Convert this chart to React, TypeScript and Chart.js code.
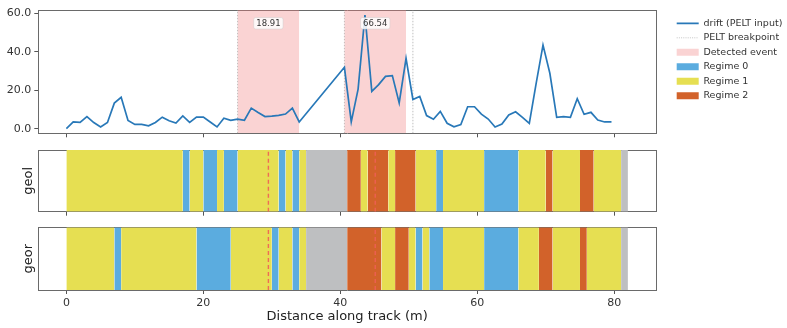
import React, { useEffect, useRef } from 'react';
import { Chart, registerables } from 'chart.js';

Chart.register(...registerables);
Chart.defaults.font.family = '"DejaVu Sans", sans-serif';
Chart.defaults.color = '#333';

// ---------- data ----------
const X_MIN = -4.1;
const X_MAX = 86.1;
const xTickValues = [0, 20, 40, 60, 80];

const DRIFT_Y_MIN = -2.4;
const DRIFT_Y_MAX = 61.7;
const driftYTicks = [0, 20, 40, 60];

const driftX = [
  0, 1, 2, 3, 4, 5, 6, 7, 8, 9, 10, 11, 12, 13, 14, 15, 16, 17, 18, 19, 20,
  21, 22, 23, 24, 25, 26, 27, 28, 29, 30, 31, 32, 33, 34,
  40.6, 41.6, 42.6, 43.6, 44.6, 45.6, 46.6, 47.6, 48.6, 49.6, 50.6, 51.6,
  52.6, 53.6, 54.6, 55.6, 56.6, 57.6, 58.6, 59.6, 60.6, 61.6, 62.6, 63.6,
  64.6, 65.6, 66.6, 67.6, 68.6, 69.6, 70.6, 71.6, 72.6, 73.6, 74.6, 75.6,
  76.6, 77.6, 78.6, 79.6,
];
const driftY = [
  0, 3.5, 3.3, 6.3, 3.2, 0.9, 3.2, 13.3, 16.3, 4.3, 2.2, 2.2, 1.5, 3.2, 6.0,
  4.1, 2.9, 6.6, 3.3, 6.0, 6.0, 3.5, 0.9, 5.4, 4.3, 5.0, 4.4, 10.7, 8.4, 6.3,
  6.5, 6.9, 7.6, 10.7, 3.5,
  31.9, 3.5, 20.6, 59.1, 19.4, 22.9, 27.2, 27.6, 13.4, 36.5, 15.2, 16.8, 6.8,
  4.9, 9.0, 2.8, 1.0, 2.1, 11.4, 11.4, 7.6, 5.0, 0.9, 2.4, 7.1, 8.8, 5.9, 2.8,
  23.6, 43.5, 28.8, 5.9, 6.3, 5.9, 15.6, 7.5, 8.5, 4.5, 3.5, 3.5,
];

const eventStart = [25, 40.6];
const eventEnd = [34, 49.6];
const eventScore = [18.91, 66.54];
const EVENT_LABEL_Y = 54.8;

const breakpoints = [25, 40.6, 50.6];

const geolBreaks = [0, 17, 18, 20, 22, 23, 25, 31, 32, 33, 34, 35, 41, 43, 44, 47, 48, 51, 54, 55, 61, 66, 70, 71, 75, 77, 81, 82];
const geolRegimes = [1, 0, 1, 0, 1, 0, 1, 0, 1, 0, 1, -1, 2, 1, 2, 1, 2, 1, 0, 1, 0, 1, 2, 1, 2, 1, -1];

const georBreaks = [0, 7, 8, 19, 24, 30, 31, 33, 34, 35, 41, 46, 48, 50, 51, 52, 53, 55, 61, 66, 69, 71, 75, 76, 81, 82];
const georRegimes = [1, 0, 1, 0, 1, 0, 1, 0, 1, -1, 2, 1, 2, 1, 0, 1, 0, 1, 0, 1, 2, 1, 2, 1, -1];

const regimeNames = ['Regime 0', 'Regime 1', 'Regime 2'];

// ---------- styles ----------
const LINE_COLOR = '#2878b8';
const EVENT_COLOR = 'rgba(240,128,128,0.35)';
const BREAK_COLOR = '#b8b8b8';
const REGIME_COLORS = ['#5BACDF', '#E6DF52', '#D2622A'];
const GAP_COLOR = '#BEBFC1';
const CENTER_COLOR = 'rgba(240,95,85,0.9)';
const SPINE = '#6a6a6a';
const TICK = '#555';

const PLOT_LEFT = 38.3;
const PLOT_RIGHT_PAD = 131;

const setTicks = (vals: number[]) => (s: any) => {
  s.ticks = vals.map((v) => ({ value: v }));
};

const frameAxes = (yMin: number, yMax: number, rightWidth: number) => ({
  xTop: {
    type: 'linear',
    position: 'top',
    min: X_MIN,
    max: X_MAX,
    grid: { display: false },
    ticks: { display: false },
    border: { display: true, color: SPINE, width: 1 },
    afterFit: (s: any) => { s.height = 0; },
  },
  yRight: {
    type: 'linear',
    position: 'right',
    min: yMin,
    max: yMax,
    grid: { display: false },
    ticks: { display: false },
    border: { display: true, color: SPINE, width: 1 },
    afterFit: (s: any) => { s.width = rightWidth; },
  },
});

const eventLabelPlugin = {
  id: 'eventLabels',
  afterDatasetsDraw(chart: any) {
    const { ctx, scales } = chart;
    const x = scales.x;
    const y = scales.y;
    ctx.save();
    ctx.font = '8.5px "DejaVu Sans", sans-serif';
    ctx.textAlign = 'center';
    ctx.textBaseline = 'middle';
    eventScore.forEach((score, i) => {
      const txt = score.toFixed(2);
      const cx = x.getPixelForValue((eventStart[i] + eventEnd[i]) / 2);
      const cy = y.getPixelForValue(EVENT_LABEL_Y);
      const w = ctx.measureText(txt).width + 5;
      const h = 11.5;
      ctx.beginPath();
      ctx.roundRect(cx - w / 2, cy - h / 2, w, h, 2);
      ctx.fillStyle = 'rgba(255,255,255,0.85)';
      ctx.fill();
      ctx.strokeStyle = 'rgba(205,205,205,0.8)';
      ctx.lineWidth = 0.6;
      ctx.stroke();
      ctx.fillStyle = '#333';
      ctx.fillText(txt, cx, cy + 0.5);
    });
    ctx.restore();
  },
};

function topConfig(): any {
  const datasets: any[] = [
    {
      label: 'drift (PELT input)',
      data: driftX.map((x, i) => ({ x, y: driftY[i] })),
      borderColor: LINE_COLOR,
      borderWidth: 1.7,
      pointRadius: 0,
      fill: false,
      order: 0,
    },
    ...eventStart.map((s, i) => ({
      data: [{ x: s, y: DRIFT_Y_MAX }, { x: eventEnd[i], y: DRIFT_Y_MAX }],
      borderColor: 'rgba(0,0,0,0)',
      borderWidth: 0,
      backgroundColor: EVENT_COLOR,
      fill: { value: DRIFT_Y_MIN },
      pointRadius: 0,
      order: 1,
    })),
    ...breakpoints.map((b) => ({
      data: [{ x: b, y: DRIFT_Y_MIN }, { x: b, y: DRIFT_Y_MAX }],
      borderColor: BREAK_COLOR,
      borderWidth: 0.9,
      borderDash: [1.5, 1.5],
      pointRadius: 0,
      fill: false,
      order: 2,
    })),
  ];
  const legendItems = [
    { text: 'drift (PELT input)', pointStyle: 'line', strokeStyle: LINE_COLOR, fillStyle: LINE_COLOR, lineWidth: 1.7 },
    { text: 'PELT breakpoint', pointStyle: 'line', strokeStyle: BREAK_COLOR, fillStyle: BREAK_COLOR, lineWidth: 0.8, lineDash: [1, 1.2] },
    { text: 'Detected event', pointStyle: 'rect', strokeStyle: EVENT_COLOR, fillStyle: EVENT_COLOR, lineWidth: 0 },
    ...regimeNames.map((n, i) => ({ text: n, pointStyle: 'rect', strokeStyle: REGIME_COLORS[i], fillStyle: REGIME_COLORS[i], lineWidth: 0 })),
  ];
  return {
    type: 'line',
    data: { datasets },
    plugins: [eventLabelPlugin],
    options: {
      responsive: false,
      animation: false,
      devicePixelRatio: 1,
      events: [],
      layout: { padding: { top: 10, left: 0, right: 0, bottom: 0 } },
      plugins: {
        tooltip: { enabled: false },
        legend: {
          display: true,
          position: 'right',
          align: 'start',
          maxWidth: 115.3,
          title: { display: true, text: ' ', font: { size: 1 }, padding: { top: 2.35, bottom: 0 } },
          labels: {
            usePointStyle: true,
            pointStyleWidth: 22,
            boxHeight: 7,
            padding: 5,
            color: '#2a2a2a',
            font: { size: 9.5 },
            generateLabels: () => legendItems.map((it, i) => ({ ...it, hidden: false, datasetIndex: i })),
          },
        },
      },
      scales: {
        x: {
          type: 'linear',
          position: 'bottom',
          min: X_MIN,
          max: X_MAX,
          grid: { drawOnChartArea: false, drawTicks: true, tickLength: 4, color: TICK, tickColor: TICK },
          border: { display: true, color: SPINE, width: 1 },
          ticks: { display: false },
          afterBuildTicks: setTicks(xTickValues),
          afterFit: (s: any) => { s.height = 9.7; },
        },
        y: {
          type: 'linear',
          position: 'left',
          min: DRIFT_Y_MIN,
          max: DRIFT_Y_MAX,
          grid: { drawOnChartArea: false, drawTicks: true, tickLength: 4, color: TICK, tickColor: TICK },
          border: { display: true, color: SPINE, width: 1 },
          ticks: { font: { size: 11 }, color: '#333', padding: 3, callback: (v: any) => Number(v).toFixed(1) },
          afterBuildTicks: setTicks(driftYTicks),
          afterFit: (s: any) => { s.width = PLOT_LEFT; },
        },
        ...frameAxes(DRIFT_Y_MIN, DRIFT_Y_MAX, 15.7),
      },
    },
  };
}

function regimeConfig(breaks: number[], regimes: number[], name: string, showX: boolean, padTop: number, xHeight: number): any {
  const datasets: any[] = [
    ...eventStart.map((s, i) => {
      const c = (s + eventEnd[i]) / 2;
      return {
        data: [{ x: c, y: 0 }, { x: c, y: 1 }],
        borderColor: CENTER_COLOR,
        borderWidth: 1.4,
        borderDash: [4, 3],
        pointRadius: 0,
        fill: false,
        order: 0,
      };
    }),
    ...regimes.map((r, i) => ({
      data: [{ x: breaks[i], y: 1 }, { x: breaks[i + 1], y: 1 }],
      borderColor: 'rgba(0,0,0,0)',
      borderWidth: 0,
      backgroundColor: r < 0 ? GAP_COLOR : REGIME_COLORS[r],
      fill: 'origin',
      pointRadius: 0,
      order: 1,
    })),
  ];
  return {
    type: 'line',
    data: { datasets },
    options: {
      responsive: false,
      animation: false,
      devicePixelRatio: 1,
      events: [],
      layout: { padding: { top: padTop, left: 0, right: PLOT_RIGHT_PAD, bottom: 0 } },
      plugins: { tooltip: { enabled: false }, legend: { display: false } },
      scales: {
        x: {
          type: 'linear',
          position: 'bottom',
          min: X_MIN,
          max: X_MAX,
          grid: { drawOnChartArea: false, drawTicks: true, tickLength: 4, color: TICK, tickColor: TICK },
          border: { display: true, color: SPINE, width: 1 },
          ticks: { display: showX, font: { size: 11 }, color: '#333', padding: 3, maxRotation: 0, autoSkip: false },
          title: {
            display: showX,
            text: 'Distance along track (m)',
            font: { size: 13 },
            color: '#222',
            padding: { top: 0, bottom: 3.5 },
          },
          afterBuildTicks: setTicks(xTickValues),
          afterFit: (s: any) => { s.height = xHeight; },
        },
        y: {
          type: 'linear',
          position: 'left',
          min: 0,
          max: 1,
          grid: { display: false },
          ticks: { display: false },
          border: { display: true, color: SPINE, width: 1 },
          title: { display: true, text: name, font: { size: 13 }, color: '#222', padding: { top: 20.5, bottom: 0 } },
          afterFit: (s: any) => { s.width = PLOT_LEFT; },
        },
        ...frameAxes(0, 1, 0),
      },
    },
  };
}

export default function App() {
  const topRef = useRef<HTMLCanvasElement>(null);
  const geolRef = useRef<HTMLCanvasElement>(null);
  const georRef = useRef<HTMLCanvasElement>(null);

  useEffect(() => {
    const charts: Chart[] = [];
    if (topRef.current) charts.push(new Chart(topRef.current, topConfig()));
    if (geolRef.current) charts.push(new Chart(geolRef.current, regimeConfig(geolBreaks, geolRegimes, 'geol', false, 7, 8.3)));
    if (georRef.current) charts.push(new Chart(georRef.current, regimeConfig(georBreaks, georRegimes, 'geor', true, 7.3, 38)));
    return () => charts.forEach((c) => c.destroy());
  }, []);

  const cs = (top: number, h: number): React.CSSProperties => ({ position: 'absolute', left: 0, top, width: 787, height: h });

  return (
    <div style={{ position: 'fixed', left: 0, top: 0, width: 787, height: 328, background: '#fff', overflow: 'hidden' }}>
      <canvas ref={topRef} width={787} height={143} style={cs(0, 143)} />
      <canvas ref={geolRef} width={787} height={77} style={cs(143, 77)} />
      <canvas ref={georRef} width={787} height={108} style={cs(220, 108)} />
    </div>
  );
}
